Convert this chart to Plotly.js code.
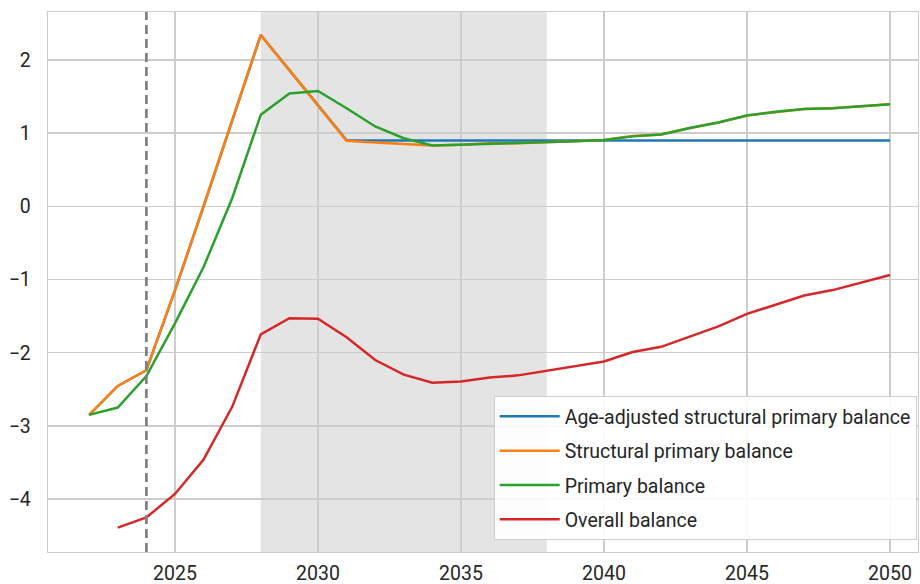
<!DOCTYPE html>
<html>
<head>
<meta charset="utf-8">
<script src="https://cdn.plot.ly/plotly-3.0.1.min.js"></script>
<style>html,body{margin:0;padding:0;background:#fff;}#chart{width:920px;height:584px;}</style>
</head>
<body>
<div id="chart"></div>
<script>
const years = [2022,2023,2024,2025,2026,2027,2028,2029,2030,2031,2032,2033,2034,2035,2036,2037,2038,2039,2040,2041,2042,2043,2044,2045,2046,2047,2048,2049,2050];
const ageAdjusted = [-2.85,-2.455,-2.24,-1.15,0.0,1.17,2.34,1.86,1.38,0.9,0.9,0.9,0.9,0.9,0.9,0.9,0.9,0.9,0.9,0.9,0.9,0.9,0.9,0.9,0.9,0.9,0.9,0.9,0.9];
const structural = [-2.85,-2.455,-2.24,-1.15,0.0,1.17,2.34,1.86,1.38,0.895,0.87,0.85,0.83,0.84,0.86,0.86,0.875,0.89,0.905,0.96,0.98,1.07,1.145,1.24,1.29,1.33,1.34,1.37,1.395];
const primary = [-2.85,-2.75,-2.32,-1.6,-0.83,0.11,1.25,1.54,1.575,1.34,1.09,0.93,0.83,0.84,0.86,0.86,0.875,0.89,0.905,0.955,0.98,1.07,1.145,1.24,1.29,1.33,1.34,1.37,1.395];
const overallYears = years.slice(1);
const overall = [-4.39,-4.25,-3.93,-3.46,-2.74,-1.75,-1.53,-1.535,-1.79,-2.10,-2.30,-2.41,-2.395,-2.34,-2.31,-2.25,-2.18,-2.12,-1.99,-1.92,-1.78,-1.64,-1.47,-1.34,-1.22,-1.145,-1.04,-0.94];
const seriesNames = ["Age-adjusted structural primary balance","Structural primary balance","Primary balance","Overall balance"];
const xTicks = [2025,2030,2035,2040,2045,2050];
const yTicks = [-4,-3,-2,-1,0,1,2];
const yTickLabels = ["\u22124","\u22123","\u22122","\u22121","0","1","2"];
const lastActualYear = 2024;
const shadeStart = 2028, shadeEnd = 2038;

const colors = ["#1f77b4","#ff7f0e","#2ca02c","#d62728"];
const xs = [years, years, years, overallYears];
const ys = [ageAdjusted, structural, primary, overall];
const traces = ys.map((y,i)=>({
  x: xs[i], y: y, type: "scatter", mode: "lines",
  name: seriesNames[i], legendgroup: "g"+i,
  line: {color: colors[i], width: 2.5}
}));

const font = "Roboto, 'Noto Sans', sans-serif";
const layout = {
  width: 920, height: 584,
  margin: {l: 48, r: 2, t: 12, b: 32},
  paper_bgcolor: "#fff", plot_bgcolor: "#fff",
  font: {family: font, size: 19.5, color: "#262626"},
  showlegend: true,
  legend: {
    x: 0.9985, y: 0.022, xanchor: "right", yanchor: "bottom",
    bgcolor: "rgba(255,255,255,0.9)", bordercolor: "#d0d0d0", borderwidth: 1,
    font: {family: font, size: 19.5, color: "#262626"},
    tracegroupgap: 6, traceorder: "grouped", itemwidth: 60
  },
  xaxis: {
    range: [2020.56, 2050.98], tickvals: xTicks, ticktext: xTicks.map(String),
    showgrid: true, gridcolor: "#cccccc", gridwidth: 1.3,
    zeroline: false, showline: true, linecolor: "#cccccc", linewidth: 1.3, mirror: true,
    ticks: "", ticklabelstandoff: 3
  },
  yaxis: {
    range: [-4.723, 2.654], tickvals: yTicks, ticktext: yTickLabels,
    showgrid: true, gridcolor: "#cccccc", gridwidth: 1.3,
    zeroline: false, showline: true, linecolor: "#cccccc", linewidth: 1.3, mirror: true,
    ticks: "", ticklabelstandoff: 12
  },
  shapes: [
    {type: "rect", xref: "x", yref: "paper", x0: shadeStart, x1: shadeEnd, y0: 0, y1: 1,
     fillcolor: "#e4e4e4", line: {width: 0}, layer: "below"},
    {type: "line", xref: "x", yref: "paper", x0: lastActualYear, x1: lastActualYear, y0: 0, y1: 1,
     line: {color: "#7f7f7f", width: 2.7, dash: "9px,5px"}, layer: "above"}
  ]
};
Plotly.newPlot("chart", traces, layout, {displayModeBar: false, staticPlot: true});
</script>
</body>
</html>
